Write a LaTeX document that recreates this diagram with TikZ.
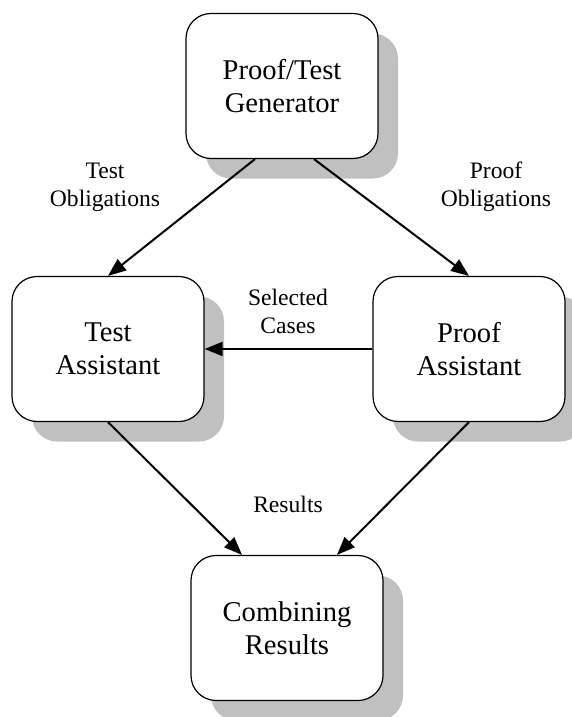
\documentclass[tikz,border=0pt]{standalone}
\usepackage{fontspec}
\setmainfont{Liberation Serif}
\usetikzlibrary{shadows,arrows.meta}
\definecolor{shadowgray}{HTML}{C0C0C0}

\begin{document}
\begin{tikzpicture}[x=0.5pt,y=-0.5pt,
  box/.style={draw,line width=0.6pt,fill=white,rounded corners=12.5pt,
    minimum width=96pt,minimum height=72.5pt,align=center,
    font=\fontsize{14.3}{16.5}\selectfont,
    drop shadow={shadow xshift=10pt,shadow yshift=-10pt,fill=shadowgray,opacity=1}},
  arr/.style={-{Triangle[length=9pt,width=7pt]},line width=1pt},
  lbl/.style={align=center,font=\fontsize{11.8}{14}\selectfont}]
\useasboundingbox (0,0) rectangle (572,717);
% boxes
\node[box] (gen) at (282,86) {Proof/Test\\Generator};
\node[box] (test) at (108,349) {Test\\Assistant};
\node[box] (proof) at (469,349) {Proof\\Assistant};
\node[box] (comb) at (287,628) {Combining\\Results};
% connectors
\draw[arr] ([xshift=-13.5pt]gen.south) -- (test.north);
\draw[arr] ([xshift=16pt]gen.south) -- (proof.north);
\draw[arr] (proof.west) -- (test.east);
\draw[arr] (test.south) -- ([xshift=-22.5pt]comb.north);
\draw[arr] (proof.south) -- ([xshift=25pt]comb.north);
% labels
\node[lbl] (testob) at (105,187) {Test\\Obligations};
\node[lbl] (proofob) at (496,187) {Proof\\Obligations};
\node[lbl] (sel) at (288,311) {Selected\\Cases};
\node[lbl] (res) at (288,504) {Results};
\end{tikzpicture}
\end{document}
